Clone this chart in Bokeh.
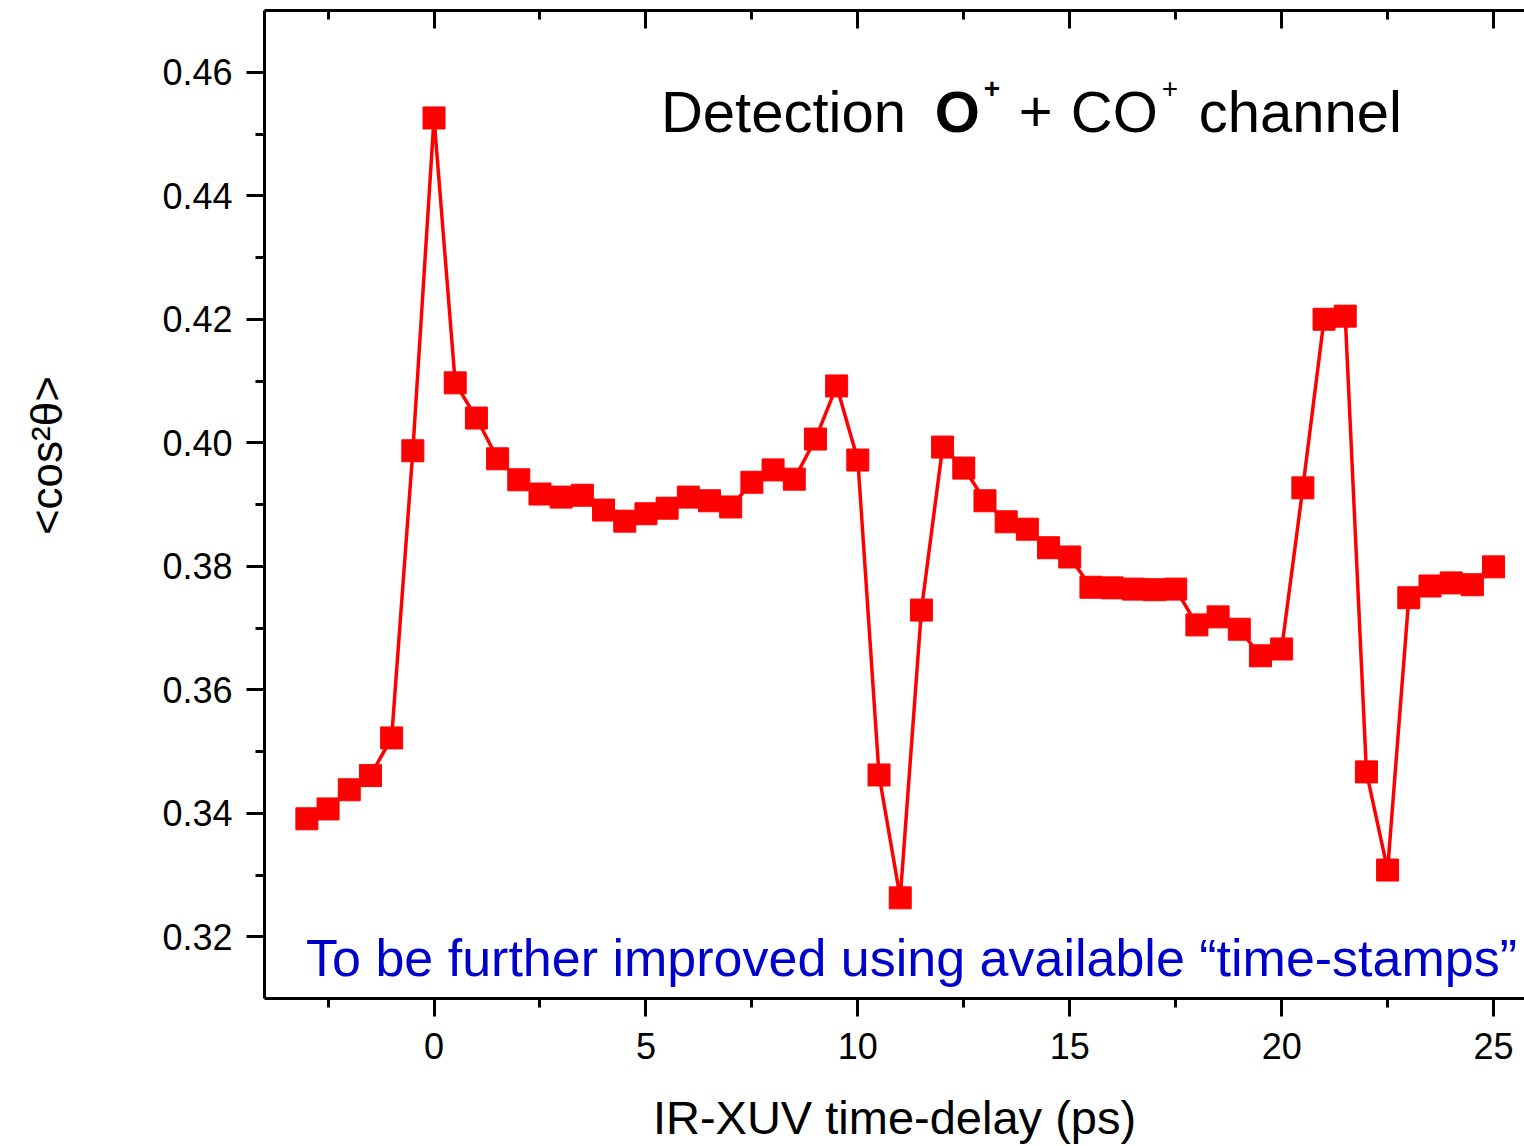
from bokeh.plotting import figure
from bokeh.models import (LinearAxis, FixedTicker, Range1d, Label, NumeralTickFormatter)
from bokeh.embed import file_html
from bokeh.resources import INLINE

delay_ps = [-3.0, -2.5, -2.0, -1.5, -1.0, -0.5, 0.0, 0.5, 1.0, 1.5, 2.0, 2.5,
            3.0, 3.5, 4.0, 4.5, 5.0, 5.5, 6.0, 6.5, 7.0, 7.5, 8.0, 8.5, 9.0,
            9.5, 10.0, 10.5, 11.0, 11.5, 12.0, 12.5, 13.0, 13.5, 14.0, 14.5,
            15.0, 15.5, 16.0, 16.5, 17.0, 17.5, 18.0, 18.5, 19.0, 19.5, 20.0,
            20.5, 21.0, 21.5, 22.0, 22.5, 23.0, 23.5, 24.0, 24.5, 25.0]
cos2theta = [0.3391, 0.3407, 0.3438, 0.3461, 0.3522, 0.3987, 0.4526, 0.4097,
             0.4040, 0.3974, 0.3940, 0.3917, 0.3912, 0.3915, 0.3891, 0.3873,
             0.3885, 0.3894, 0.3912, 0.3906, 0.3896, 0.3936, 0.3956, 0.3941,
             0.4006, 0.4092, 0.3972, 0.3462, 0.3263, 0.3729, 0.3993, 0.3959,
             0.3906, 0.3872, 0.3860, 0.3830, 0.3815, 0.3766, 0.3765, 0.3763,
             0.3762, 0.3763, 0.3705, 0.3718, 0.3698, 0.3655, 0.3666, 0.3927,
             0.4200, 0.4205, 0.3467, 0.3308, 0.3749, 0.3768, 0.3773, 0.3770,
             0.3799]

x_major = [0, 5, 10, 15, 20, 25]
x_minor = [-2.5, 2.5, 7.5, 12.5, 17.5, 22.5]
y_major = [0.32, 0.34, 0.36, 0.38, 0.40, 0.42, 0.44, 0.46]
y_minor = [0.33, 0.35, 0.37, 0.39, 0.41, 0.43, 0.45]

FONT = "Liberation Sans"
RED = "#ff0000"
BLUE = "#0000cc"

p = figure(width=1524, height=1146, output_backend="svg", toolbar_location=None,
           x_range=Range1d(-4, 25.73), y_range=Range1d(0.31, 0.47),
           x_axis_location=None, y_axis_location=None,
           min_border_left=264, min_border_right=0, min_border_top=10,
           min_border_bottom=148)
p.grid.visible = False
p.outline_line_color = None
p.background_fill_color = "white"
p.border_fill_color = "white"

def style_axis(ax):
    ax.axis_line_width = 3
    ax.axis_line_color = "black"
    ax.major_tick_line_width = 3
    ax.minor_tick_line_width = 3
    ax.major_tick_line_color = "black"
    ax.minor_tick_line_color = "black"
    ax.major_label_text_font = FONT
    ax.major_label_text_font_size = "36px"
    ax.major_label_text_color = "black"
    ax.axis_label_text_font = FONT
    ax.axis_label_text_font_style = "normal"
    ax.axis_label_text_color = "black"

xb = LinearAxis(ticker=FixedTicker(ticks=x_major, minor_ticks=x_minor))
style_axis(xb)
xb.major_tick_out = 18
xb.major_tick_in = 0
xb.minor_tick_out = 9
xb.minor_tick_in = 0
xb.major_label_standoff = 16
xb.axis_label = "IR-XUV time-delay (ps)"
xb.axis_label_text_font_size = "47px"
xb.axis_label_standoff = 29
p.add_layout(xb, "below")

xt = LinearAxis(ticker=FixedTicker(ticks=x_major, minor_ticks=x_minor))
style_axis(xt)
xt.major_tick_out = 0
xt.major_tick_in = 18
xt.minor_tick_out = 0
xt.minor_tick_in = 9
xt.major_label_text_font_size = "0px"
xt.major_label_text_color = None
xt.major_label_standoff = 0
p.add_layout(xt, "above")

yl = LinearAxis(ticker=FixedTicker(ticks=y_major, minor_ticks=y_minor),
                formatter=NumeralTickFormatter(format="0.00"))
style_axis(yl)
yl.major_tick_out = 18
yl.major_tick_in = 0
yl.minor_tick_out = 9
yl.minor_tick_in = 0
yl.major_label_standoff = 14
# leading no-break spaces lift the label to where Origin placed it
yl.axis_label = "\u00a0" * 8 + "<cos²θ>"
yl.axis_label_text_font_size = "44px"
yl.axis_label_standoff = 88
p.add_layout(yl, "left")

p.line(delay_ps, cos2theta, line_color=RED, line_width=3.5)
p.scatter(delay_ps, cos2theta, marker="square", size=22,
          fill_color=RED, line_color=RED)

# Title line inside plot: "Detection O+ + CO+ channel"
base_y = 0.4537
def tx(px):
    return (px - 433) / 42.4
pieces = [
    ("Detection", 660, "normal", "58px", 0.0),
    ("O", 934, "bold", "58px", 0.0),
    ("+", 983, "bold", "28px", 0.0036),
    ("+", 1018, "normal", "58px", 0.0),
    ("CO", 1070, "normal", "58px", 0.0),
    ("+", 1161, "normal", "28px", 0.0036),
    ("channel", 1198, "normal", "58px", 0.0),
]
for t, px, style, size, dy in pieces:
    p.add_layout(Label(x=tx(px), y=base_y + dy, text=t, text_font=FONT,
                       text_font_style=style, text_font_size=size,
                       text_color="black", text_align="left",
                       text_baseline="alphabetic"))

p.add_layout(Label(x=tx(305), y=0.3166, text="To be further improved using available \u201ctime-stamps\u201d",
                   text_font=FONT, text_font_size="52px", text_color=BLUE,
                   text_align="left", text_baseline="alphabetic"))

open("out.html", "w").write(file_html(p, INLINE))
